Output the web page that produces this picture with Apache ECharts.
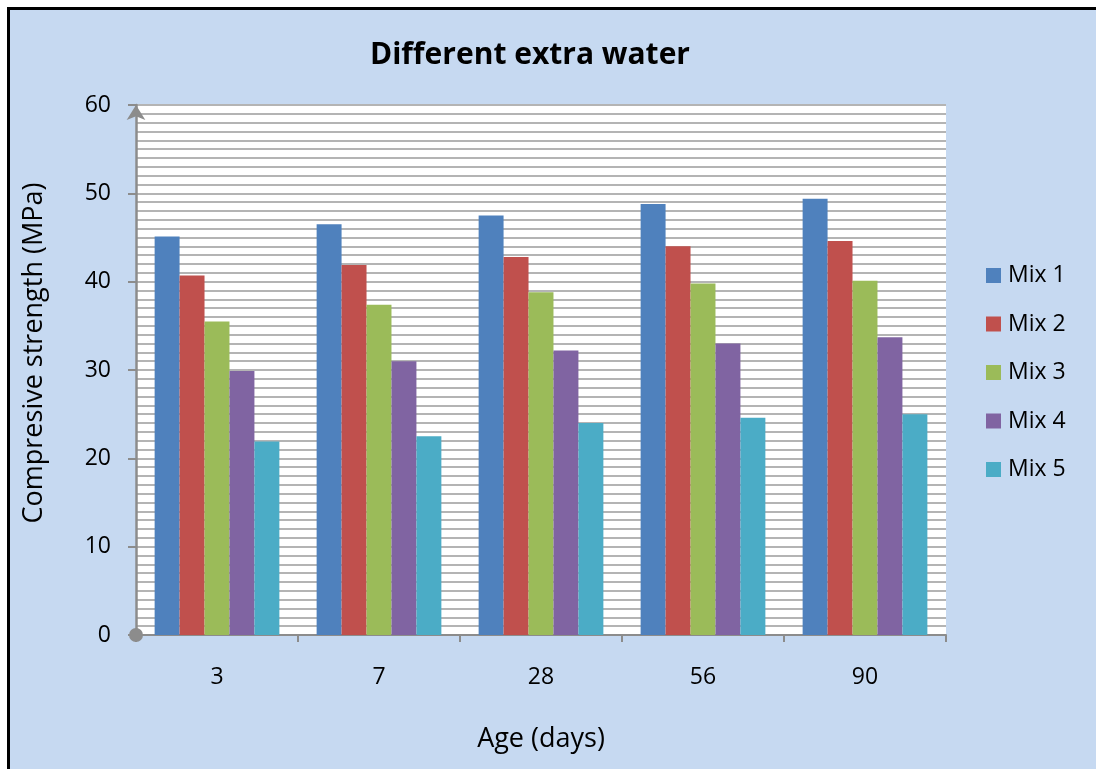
<!DOCTYPE html>
<html>
<head>
<meta charset="utf-8">
<script src="https://cdn.jsdelivr.net/npm/echarts@6/dist/echarts.min.js"></script>
<style>
  html, body { margin: 0; padding: 0; background: #ffffff; overflow: hidden; }
  #frame { position: absolute; left: 7px; top: 7px; width: 1200px; height: 900px; border: 3px solid #000; background: #c6d9f1; }
  #chart { position: absolute; left: 0; top: 0; width: 1096px; height: 769px; }
</style>
</head>
<body>
<div id="frame"></div>
<div id="chart"></div>
<script>
const categories = ['3', '7', '28', '56', '90'];
const seriesNames = ['Mix 1', 'Mix 2', 'Mix 3', 'Mix 4', 'Mix 5'];
const mix1 = [45.1, 46.5, 47.5, 48.8, 49.4];
const mix2 = [40.7, 41.9, 42.8, 44.0, 44.6];
const mix3 = [35.5, 37.4, 38.8, 39.8, 40.1];
const mix4 = [29.9, 31.0, 32.2, 33.0, 33.7];
const mix5 = [21.9, 22.5, 24.0, 24.6, 25.0];
const seriesValues = [mix1, mix2, mix3, mix4, mix5];
const colors = ['#4f81bd', '#c0504d', '#9bbb59', '#8064a2', '#4bacc6'];

const FONT = '"Open Sans", sans-serif';
const chart = echarts.init(document.getElementById('chart'));
chart.setOption({
  backgroundColor: 'transparent',
  animation: false,
  title: {
    text: 'Different extra water',
    left: 525, top: 35, textAlign: 'center',
    textStyle: { fontFamily: FONT, fontSize: 30, fontWeight: 'bold', color: '#000' }
  },
  legend: {
    orient: 'vertical',
    left: 981, top: 259,
    itemWidth: 15, itemHeight: 15, itemGap: 25.5,
    icon: 'rect',
    data: seriesNames,
    textStyle: { fontFamily: FONT, fontSize: 23, lineHeight: 21, color: '#000', padding: [0, 0, 0, 2] }
  },
  grid: { left: 136, top: 105, right: 150, bottom: 134, backgroundColor: '#fff', show: true, borderWidth: 0 },
  xAxis: {
    type: 'category',
    data: categories,
    name: 'Age (days)',
    nameLocation: 'middle',
    nameGap: 91,
    nameTextStyle: { fontFamily: FONT, fontSize: 27, color: '#000' },
    axisLine: { lineStyle: { color: '#8c8c8c', width: 2 } },
    axisTick: { show: true, length: 7, lineStyle: { color: '#8c8c8c', width: 2 } },
    axisLabel: { fontFamily: FONT, fontSize: 23, color: '#000', margin: 31 }
  },
  yAxis: {
    type: 'value',
    min: 0, max: 60, interval: 10,
    name: 'Compresive strength (MPa)',
    nameLocation: 'middle',
    nameGap: 88,
    nameTextStyle: { fontFamily: FONT, fontSize: 27, color: '#000', padding: [0, 0, 0, 34] },
    axisLine: { show: true, symbol: ['circle', 'arrow'], symbolSize: [14, 15], symbolOffset: [0, 0], lineStyle: { color: '#8c8c8c', width: 2.5 } },
    axisTick: { show: true, length: 8, lineStyle: { color: '#8c8c8c', width: 2 } },
    axisLabel: { fontFamily: FONT, fontSize: 23, color: '#000', margin: 25 },
    splitLine: { show: true, lineStyle: { color: '#b4b4b4', width: 2 } },
    minorTick: { show: false, splitNumber: 10 },
    minorSplitLine: { show: true, lineStyle: { color: '#b4b4b4', width: 2 } }
  },
  series: seriesNames.map((n, i) => ({
    name: n,
    type: 'bar',
    data: seriesValues[i],
    barGap: '0%',
    barCategoryGap: '23%',
    itemStyle: { color: colors[i] },
    z: 3
  }))
});
</script>
</body>
</html>
